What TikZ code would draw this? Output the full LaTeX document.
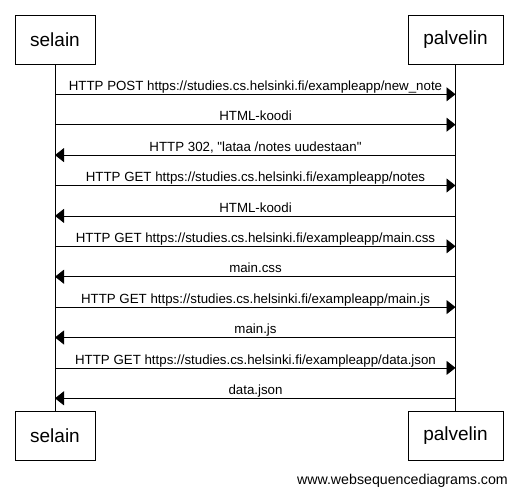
\documentclass[tikz,border=0pt]{standalone}
\usepackage{fontspec}
\setmainfont{Liberation Sans}[Ligatures=TeXOff]
\usetikzlibrary{arrows.meta}
\begin{document}
\begin{tikzpicture}[x=1bp,y=-1bp,
  actor/.style={draw,line width=0.8bp,minimum width=80bp,minimum height=49bp,inner sep=0pt,font=\fontsize{19bp}{22bp}\selectfont},
  msg/.style={line width=0.8bp,-{Triangle[length=9bp,width=14bp]}},
  lbl/.style={font=\fontsize{13.3bp}{15bp}\selectfont,inner sep=0pt,anchor=base},
  life/.style={line width=0.8bp}]
\useasboundingbox (0,0) rectangle (517,494);
\node[actor] (st) at (55,39.5) {selain};
\node[actor,minimum width=95bp] (pt) at (455.5,39.5) {palvelin};
\node[actor] (sb) at (55,435.5) {selain};
\node[actor,minimum width=95bp] (pb) at (455.5,435.5) {palvelin};
\draw[life] (st.south) -- (sb.north);
\draw[life] (pt.south) -- (pb.north);
\foreach \i/\t/\d in {
  0/{HTTP POST https://studies.cs.helsinki.fi/exampleapp/new\_note}/r,
  1/{HTML-koodi}/r,
  2/{HTTP 302, "lataa /notes uudestaan"}/l,
  3/{HTTP GET https://studies.cs.helsinki.fi/exampleapp/notes}/r,
  4/{HTML-koodi}/l,
  5/{HTTP GET https://studies.cs.helsinki.fi/exampleapp/main.css}/r,
  6/{main.css}/l,
  7/{HTTP GET https://studies.cs.helsinki.fi/exampleapp/main.js}/r,
  8/{main.js}/l,
  9/{HTTP GET https://studies.cs.helsinki.fi/exampleapp/data.json}/r,
  10/{data.json}/l}{
  \pgfmathsetmacro{\yy}{94.3+30.4*\i}
  \coordinate (s\i) at (55,\yy);
  \coordinate (p\i) at (455.5,\yy);
  \if\d r
    \draw[msg] (s\i) -- (p\i);
  \else
    \draw[msg] (p\i) -- (s\i);
  \fi
  \node[lbl] (m\i) at (255.5,\yy-3.8) {\t};
}
\node[font=\fontsize{14.2bp}{16bp}\selectfont,inner sep=0pt,anchor=base east] (wsd) at (508,484) {www.websequencediagrams.com};
\end{tikzpicture}
\end{document}
